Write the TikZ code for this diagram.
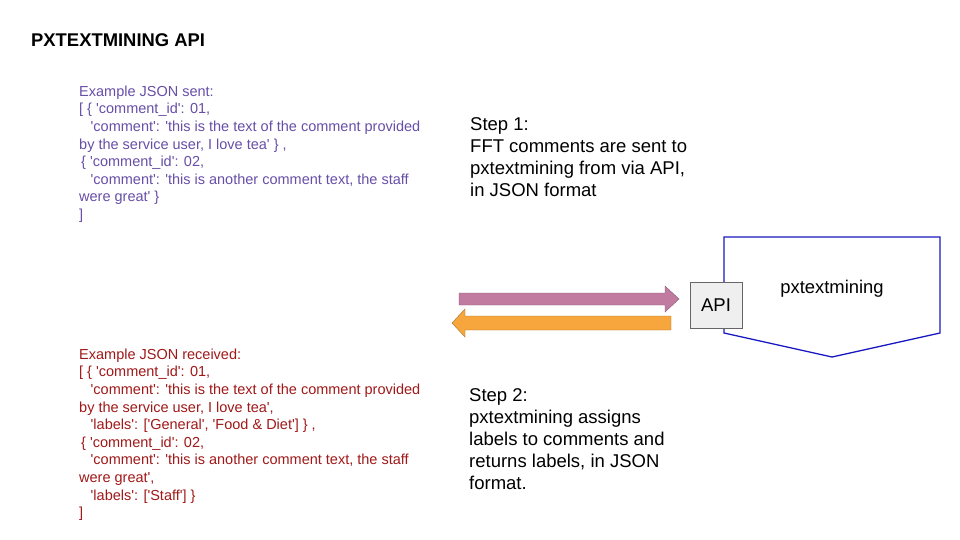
\documentclass[tikz,border=0pt]{standalone}
\usepackage{fontspec}
\setmainfont{Liberation Sans}[Ligatures=TeXOff]
\definecolor{jsonpurple}{HTML}{674EA7}
\definecolor{jsonred}{HTML}{A01818}
\definecolor{sendpink}{HTML}{C27BA0}
\definecolor{sendedge}{HTML}{8A5A75}
\definecolor{backorange}{HTML}{F6A63C}
\definecolor{backedge}{HTML}{A87028}
\definecolor{apifill}{HTML}{EFEFEF}
\definecolor{apigrey}{HTML}{666666}
\definecolor{pentblue}{HTML}{1818C0}

\begin{document}
\begin{tikzpicture}[x=1pt,y=-1pt]
        \tikzstyle{every node}=[inner sep=0pt]
        \tikzstyle{jsonblock}=[anchor=north west, align=left, font=\fontsize{14.5}{17.6}\selectfont]
        \tikzstyle{steptext}=[anchor=north west, align=left, font=\fontsize{18.5}{22}\selectfont]
        \tikzstyle{apibox}=[draw=apigrey, fill=apifill, minimum width=52pt, minimum height=46pt, font=\fontsize{18.5}{22}\selectfont]
        \useasboundingbox (0,0) rectangle (960,540);
        \node[anchor=base west, font=\bfseries\fontsize{18.4}{22}\selectfont] (title) at (31,47) {PXTEXTMINING API};
        \node[jsonblock, text=jsonpurple] (sent) at (79,85.5) {Example JSON sent:\\{[} \{ 'comment\_id': 01,\\\hspace*{11.5pt}'comment': 'this is the text of the comment provided\\by the service user, I love tea' \} ,\\\hspace*{2pt}\{ 'comment\_id': 02,\\\hspace*{11.5pt}'comment': 'this is another comment text, the staff\\were great' \}\\{]}};
        \node[jsonblock, text=jsonred] (received) at (79,348.5) {Example JSON received:\\{[} \{ 'comment\_id': 01,\\\hspace*{11.5pt}'comment': 'this is the text of the comment provided\\by the service user, I love tea',\\\hspace*{11.5pt}'labels': ['General', 'Food \& Diet'] \} ,\\\hspace*{2pt}\{ 'comment\_id': 02,\\\hspace*{11.5pt}'comment': 'this is another comment text, the staff\\were great',\\\hspace*{11.5pt}'labels': ['Staff'] \}\\{]}};
        \node[steptext] (step1) at (470,117.5) {Step 1:\\FFT comments are sent to\\pxtextmining from via API,\\in JSON format};
        \node[steptext] (step2) at (469,388) {Step 2:\\pxtextmining assigns\\labels to comments and\\returns labels, in JSON\\format.};
        % pxtextmining block, API box on its left edge
        \draw[pentblue, line width=1.3pt] (724,237) -- (940,237) -- (940,333) -- (832,357) -- (724,333) -- cycle;
        \node[anchor=base, font=\fontsize{18.4}{22}\selectfont] (pxtm) at (832,293) {pxtextmining};
        \node[apibox] (api) at (716,305) {API};
        % block arrows
        \draw[sendedge, fill=sendpink] (459,293) -- (665,293) -- (665,286) -- (679,299) -- (665,312) -- (665,305) -- (459,305) -- cycle;
        \draw[backedge, fill=backorange] (671,316) -- (465,316) -- (465,309) -- (452,323) -- (465,337) -- (465,330) -- (671,330) -- cycle;
\end{tikzpicture}
\end{document}
